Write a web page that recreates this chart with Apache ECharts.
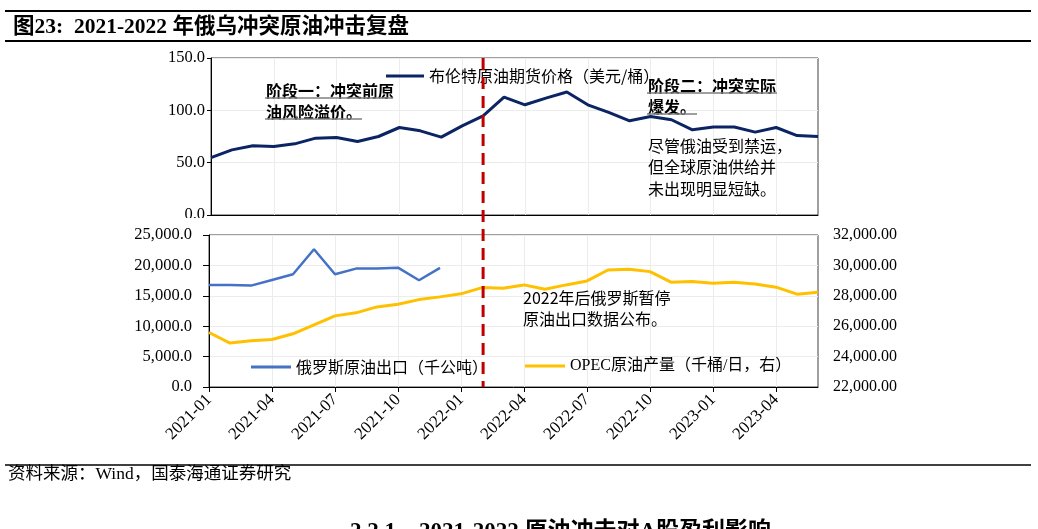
<!DOCTYPE html>
<html>
<head>
<meta charset="utf-8">
<title>2021-2022年俄乌冲突原油冲击复盘</title>
<script src="https://cdn.jsdelivr.net/npm/echarts/dist/echarts.min.js"></script>
<style>
  html, body { margin: 0; padding: 0; background: #fff; }
  #chart { width: 1038px; height: 529px; }
</style>
</head>
<body>
<div id="chart"></div>
<script>
var months = ['2021-01','2021-02','2021-03','2021-04','2021-05','2021-06','2021-07','2021-08','2021-09','2021-10','2021-11','2021-12',
              '2022-01','2022-02','2022-03','2022-04','2022-05','2022-06','2022-07','2022-08','2022-09','2022-10','2022-11','2022-12',
              '2023-01','2023-02','2023-03','2023-04','2023-05','2023-06'];
// 布伦特原油期货价格（美元/桶）
var brent = [54.9, 62.2, 66.1, 65.4, 68.0, 73.4, 74.0, 70.2, 75.0, 83.6, 80.4, 74.4,
             85.2, 94.8, 112.7, 105.3, 111.7, 117.5, 105.3, 98.0, 90.0, 94.1, 91.0, 81.4,
             84.0, 84.0, 79.2, 83.6, 75.9, 75.0];
// 俄罗斯原油出口（千公吨），2022年后停更
var russiaExport = [16790, 16790, 16680, 17610, 18540, 22650, 18540, 19470, 19470, 19630, 17560, 19580];
// OPEC原油产量（千桶/日）
var opec = [25585, 24889, 25040, 25128, 25500, 26090, 26680, 26880, 27270, 27450, 27750, 27930,
            28130, 28540, 28500, 28717, 28434, 28717, 28980, 29700, 29748, 29590, 28894, 28934,
            28830, 28894, 28783, 28566, 28106, 28237];
var conflictMonth = '2022-02';

var brentName = '布伦特原油期货价格（美元/桶）',
    ruName = '俄罗斯原油出口（千公吨）',
    opecName = 'OPEC原油产量（千桶/日，右）';

var serif = '"Liberation Serif", "Noto Sans CJK SC", serif';
var cjk = '"Noto Sans CJK SC", "Liberation Serif", sans-serif';

function fmt(v, d){
  return v.toLocaleString('en-US', {minimumFractionDigits: d, maximumFractionDigits: d});
}

var myChart = echarts.init(document.getElementById('chart'));

var option = {
  backgroundColor: '#fff',
  animation: false,
  title: {
    text: '图23:  2021-2022 年俄乌冲突原油冲击复盘',
    left: 8, top: 12,
    textStyle: {fontFamily: serif, fontSize: 21.5, fontWeight: 'bold', color: '#000'}
  },
  legend: [
    {data: [brentName], left: 381, top: 63, icon: 'rect', itemWidth: 38, itemHeight: 3,
     textStyle: {fontFamily: cjk, fontSize: 16, color: '#000'}},
    {data: [ruName], left: 246, top: 354, icon: 'rect', itemWidth: 40, itemHeight: 3,
     textStyle: {fontFamily: cjk, fontSize: 16, color: '#000'}},
    {data: [opecName], left: 520, top: 353, icon: 'rect', itemWidth: 40, itemHeight: 3,
     textStyle: {fontFamily: serif, fontSize: 16, color: '#000'}}
  ],
  grid: [
    {left: 211, right: 220, top: 58, height: 157, show: true, borderColor: '#404040', borderWidth: 1},
    {left: 209, right: 220, top: 235, height: 152, show: true, borderColor: '#404040', borderWidth: 1}
  ],
  xAxis: [
    {type: 'category', gridIndex: 0, data: months, boundaryGap: false,
     axisLine: {lineStyle: {color: '#000'}},
     axisTick: {show: false}, axisLabel: {show: false},
     splitLine: {show: true, interval: 2, lineStyle: {color: '#ececec'}}},
    {type: 'category', gridIndex: 1, data: months, boundaryGap: false,
     axisLine: {lineStyle: {color: '#000'}},
     axisTick: {show: true, interval: 2, length: 5, lineStyle: {color: '#000'}},
     axisLabel: {interval: 2, rotate: 45, margin: 10, fontFamily: serif, fontSize: 17, color: '#000'},
     splitLine: {show: true, interval: 2, lineStyle: {color: '#ececec'}}}
  ],
  yAxis: [
    {type: 'value', gridIndex: 0, min: 0, max: 150, interval: 50,
     axisLine: {show: true, lineStyle: {color: '#000'}},
     axisTick: {show: true, length: 4, lineStyle: {color: '#000'}},
     axisLabel: {margin: 6, fontFamily: serif, fontSize: 16.5, color: '#000',
                 formatter: function(v){ return v.toFixed(1); }},
     splitLine: {lineStyle: {color: '#ececec'}}},
    {type: 'value', gridIndex: 1, min: 0, max: 25000, interval: 5000,
     axisLine: {show: true, lineStyle: {color: '#000'}},
     axisTick: {show: true, length: 6, lineStyle: {color: '#000'}},
     axisLabel: {margin: 17, fontFamily: serif, fontSize: 16.5, color: '#000',
                 formatter: function(v){ return fmt(v, 1); }},
     splitLine: {lineStyle: {color: '#ececec'}}},
    {type: 'value', gridIndex: 1, position: 'right', min: 22000, max: 32000, interval: 2000,
     axisLine: {show: false}, axisTick: {show: false},
     axisLabel: {margin: 15, fontFamily: serif, fontSize: 16, color: '#000',
                 formatter: function(v){ return fmt(v, 2); }},
     splitLine: {show: false}}
  ],
  series: [
    {name: brentName, type: 'line', xAxisIndex: 0, yAxisIndex: 0, data: brent,
     showSymbol: false, color: '#0b2463', lineStyle: {width: 3, color: '#0b2463'}},
    {name: ruName, type: 'line', xAxisIndex: 1, yAxisIndex: 1, data: russiaExport,
     showSymbol: false, color: '#4472c4', lineStyle: {width: 2.5, color: '#4472c4'}},
    {name: opecName, type: 'line', xAxisIndex: 1, yAxisIndex: 2, data: opec,
     showSymbol: false, color: '#ffc000', lineStyle: {width: 3, color: '#ffc000'}}
  ]
};
myChart.setOption(option);

// 冲突时点红色虚线，位置由坐标轴换算
var xLine = myChart.convertToPixel({xAxisIndex: 0}, conflictMonth);
var yTop = myChart.convertToPixel({yAxisIndex: 0}, 150);
var yBottom = myChart.convertToPixel({yAxisIndex: 1}, 0);

var boldText = {fontFamily: cjk, fontSize: 16, fontWeight: 'bold', fill: '#000', lineHeight: 21};
var normText = {fontFamily: cjk, fontSize: 16, fill: '#000', lineHeight: 21.5};
var grey = {stroke: '#7f7f7f', lineWidth: 1.5};

myChart.setOption({
  graphic: [
    // 标题上下横线
    {type: 'line', shape: {x1: 5, y1: 11, x2: 1031, y2: 11}, style: {stroke: '#000', lineWidth: 2}},
    {type: 'line', shape: {x1: 5, y1: 41, x2: 1031, y2: 41}, style: {stroke: '#000', lineWidth: 2}},
    // 遮住上图0.0标签下半部分
    {type: 'rect', z: 100, shape: {x: 140, y: 218, width: 66, height: 8}, style: {fill: '#fff'}},
    // 注释
    {type: 'text', left: 266, top: 80, z: 50, style: Object.assign({text: '阶段一：冲突前原\n油风险溢价。'}, boldText)},
    {type: 'line', z: 50, shape: {x1: 265, y1: 98, x2: 393, y2: 98}, style: grey},
    {type: 'line', z: 50, shape: {x1: 265, y1: 119, x2: 362, y2: 119}, style: grey},
    {type: 'text', left: 648, top: 75, z: 50, style: Object.assign({text: '阶段二：冲突实际\n爆发。'}, boldText)},
    {type: 'line', z: 50, shape: {x1: 647, y1: 93, x2: 777, y2: 93}, style: grey},
    {type: 'line', z: 50, shape: {x1: 647, y1: 114, x2: 697, y2: 114}, style: grey},
    {type: 'text', left: 648, top: 135, z: 50, style: Object.assign({text: '尽管俄油受到禁运，\n但全球原油供给并\n未出现明显短缺。'}, normText)},
    {type: 'text', left: 523, top: 287, z: 50, style: Object.assign({text: '2022年后俄罗斯暂停\n原油出口数据公布。'}, normText)},
    // 红色虚线
    {type: 'line', z: 60, shape: {x1: xLine, y1: yTop, x2: xLine, y2: yBottom},
     style: {stroke: '#c00000', lineWidth: 3, lineDash: [12, 7]}},
    // 资料来源
    {type: 'line', shape: {x1: 5, y1: 465, x2: 1031, y2: 465}, style: {stroke: '#000', lineWidth: 1.5}},
    {type: 'text', left: 8, top: 466, style: {text: '资料来源：Wind，国泰海通证券研究', fontFamily: serif, fontSize: 17.5, fill: '#000'}},
    {type: 'text', left: 350, top: 521, style: {text: '2.2.1    2021-2022 原油冲击对A股盈利影响', fontFamily: serif, fontSize: 23, fontWeight: 'bold', fill: '#000'}}
  ]
});
</script>
</body>
</html>
